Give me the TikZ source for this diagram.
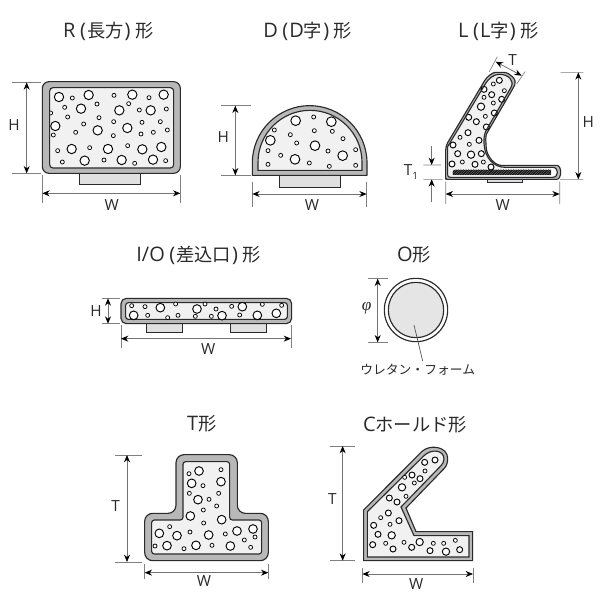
\documentclass[tikz,border=0pt]{standalone}
\usepackage{fontspec}
\setmainfont{Noto Sans CJK JP}
\newfontfamily\latfont{Open Sans}
\newfontfamily\greekfont{Liberation Serif}
\usetikzlibrary{arrows.meta}
\definecolor{band}{HTML}{B8B8B8}
\definecolor{core}{HTML}{F1F1F1}
\definecolor{ink}{HTML}{2A2A2A}
\newcommand{\lat}[1]{{\latfont\fontsize{15}{16}\selectfont #1}}
\newcommand{\opn}{\hspace{3.4pt}\lat{(}\hspace{.8pt}}
\newcommand{\cpn}{\hspace{.8pt}\lat{)}\hspace{3.4pt}}
\tikzset{
  x=.75pt,y=-.75pt,
  zoomed/.style={scale=0.33333},
  shell/.style={draw=ink,line width=.85pt,fill=band,line join=round},
  foam/.style={draw=ink,line width=.85pt,fill=core,line join=round},
  foot/.style={draw=ink,line width=.75pt,fill=core!85!gray},
  bub/.style={draw=black,line width=.7pt,fill=white},
  smallbub/.style={draw=black,line width=.55pt,fill=white},
  ext/.style={draw=black!50,line width=.5pt},
  dimline/.style={draw=black!55,line width=.6pt,{Stealth[length=5.5pt,width=4.5pt,black]}-{Stealth[length=5.5pt,width=4.5pt,black]}},
  onetip/.style={draw=black!55,line width=.6pt,-{Stealth[length=5.5pt,width=4.5pt,black]}},
  ttl/.style={font=\fontsize{13.7}{15}\selectfont,text=ink,inner sep=0pt},
  dimtext/.style={font=\latfont\fontsize{11.5}{13}\selectfont,text=ink,inner sep=0pt},
}
\newcommand{\bubbles}[2]{\foreach \bx/\by in {#2} \draw[bub] (\bx,\by) circle[radius=#1];}
\newcommand{\specks}[1]{\foreach \bx/\by in {#1} \draw[smallbub] (\bx,\by) circle[radius=6];}
\begin{document}
\begin{tikzpicture}
\path[use as bounding box,fill=white] (0,0) rectangle (600,607);

% R
\begin{scope}[shift={(0,0)},zoomed]
\draw[foot] (239,515) rectangle (423,554);
\draw[shell,rounded corners=5pt] (127,245) rectangle (541,520);
\begin{scope}
\clip[rounded corners=2.5pt] (149,263) rectangle (521,504);
\fill[core,rounded corners=2.5pt] (149,263) rectangle (521,504);
\bubbles{14}{177/291,266/285,397/284,491/284,243/326,358/331,452/331,166/378,293/391,382/384,215/447,324/447,427/448,484/441,254/482,365/480,459/479}
\specks{217/294,342/286,447/293,194/322,291/312,386/311,418/330,499/327,203/351,297/353,152/339,251/372,341/365,426/367,481/365,227/397,160/405,340/407,423/402,460/397,502/390,173/452,269/443,383/437,187/486,312/480,404/490,497/482}
\end{scope}
\draw[ink,line width=.85pt,rounded corners=2.5pt] (149,263) rectangle (521,504);
\draw[ext] (37,247) -- (122,247) (37,520) -- (122,520) (127,525) -- (127,610) (541,525) -- (541,610);
\draw[dimline] (80,247) -- (80,520);
\draw[dimline] (127,580) -- (541,580);
\node[dimtext] (rh) at (42,375) {H};
\node[dimtext] (rw) at (335,614) {W};
\node[ttl] (rt) at (325,93) {\lat{R}\opn 長方\cpn 形};
\end{scope}

% D
\begin{scope}[shift={(210,0)},zoomed]
\draw[foot] (209,526) rectangle (392,562);
\draw[shell] (127,526) -- (127,489) .. controls (127,394) and (204,317) .. (299,317) .. controls (394,317) and (471,394) .. (471,489) -- (471,526) -- cycle;
\path[foam,draw=none] (144,511) -- (144,487) .. controls (144,401) and (214,331) .. (300,331) .. controls (386,331) and (456,401) .. (456,487) -- (456,511) -- cycle;
\bubbles{14.5}{257/362,364/365,181/421,315/437,398/467,255/478}
\specks{311/351,193/390,313/392,367/394,241/404,399/416,260/429,174/452,354/453,437/449,212/466,298/489,174/493,358/499,437/496}
\draw[ink,line width=.85pt] (144,511) -- (144,487) .. controls (144,401) and (214,331) .. (300,331) .. controls (386,331) and (456,401) .. (456,487) -- (456,511) -- cycle;
\draw[ext] (33,317) -- (122,317) (33,526) -- (122,526) (127,545) -- (127,620) (470,545) -- (470,620);
\draw[dimline] (76,317) -- (76,526);
\draw[dimline] (127,582) -- (470,582);
\node[dimtext] (dh) at (40,411) {H};
\node[dimtext] (dw) at (306,614) {W};
\node[ttl] (dt) at (293,93) {\lat{D}\opn\lat{D}字\cpn 形};
\end{scope}

% L
\begin{scope}[shift={(410,10)},zoomed]
\draw[foot,fill=blue!8!gray!25] (232,505) rectangle (338,518);
\draw[shell,rounded corners=3pt] (107,408) -- (218,222) .. controls (232,198) and (250,187) .. (268,187) .. controls (300,187) and (322,210) .. (309,235) -- (235,362) .. controls (229,373) and (227,385) .. (228,400) .. controls (230,440) and (255,466) .. (285,466) -- (428,466) .. controls (456,466) and (456,508) .. (428,508) -- (122,508) .. controls (112,508) and (107,503) .. (107,495) -- cycle;
\path[fill=core] (113,410) -- (224,225) .. controls (236,204) and (252,193) .. (268,193) .. controls (296,193) and (314,212) .. (303,232) -- (229,360) .. controls (223,371) and (221,385) .. (222,400) .. controls (224,445) and (252,472) .. (285,472) -- (428,472) .. controls (447,472) and (447,502) .. (428,502) -- (122,502) .. controls (116,502) and (113,500) .. (113,495) -- cycle;
\fill[white] (423,473) -- (428,473) .. controls (446,473) and (446,501) .. (428,501) -- (423,501) -- cycle;
\fill[black!55] (128,479) rectangle (423,495);
\begin{scope}
\clip (128,479) rectangle (423,495);
\foreach \hx in {120,125,...,425} \draw[black,line width=.4pt] (\hx,495) -- (\hx+16,479);
\end{scope}
\bubbles{9}{268/211,222/238,245/254,275/268,253/309,176/322,199/335,229/351,174/368,207/391,129/405,143/431,214/431,126/462,195/463,243/471}
\bubbles{11}{213/290,183/434}
\specks{250/222,283/242,222/262,250/279,226/319,150/382,178/403,157/456,220/456}
\draw[ink,line width=.85pt] (113,410) -- (224,225) .. controls (236,204) and (252,193) .. (268,193) .. controls (296,193) and (314,212) .. (303,232) -- (229,360) .. controls (223,371) and (221,385) .. (222,400) .. controls (224,445) and (252,472) .. (285,472) -- (428,472) .. controls (447,472) and (447,502) .. (428,502) -- (122,502) .. controls (116,502) and (113,500) .. (113,495) -- cycle;
\draw[ext] (238,185) -- (262,140) (320,222) -- (345,185) (452,187) -- (520,187) (450,508) -- (520,508) (40,465) -- (93,465) (40,508) -- (97,508) (107,515) -- (107,582) (449,515) -- (449,582);
\draw[dimline] (257,155) -- (335,197);
\draw[dimline] (505,187) -- (505,508);
\draw[onetip] (65,408) -- (65,465);
\draw[onetip] (65,577) -- (65,508);
\draw[dimline] (107,552) -- (449,552);
\node[dimtext] (lt) at (308,150) {T};
\node[dimtext] (lh) at (535,335) {H};
\node[dimtext] (lw) at (278,585) {W};
\node[dimtext] (lo) at (3,486) {T\raisebox{-.45ex}{\fontsize{7.5}{8}\selectfont 1}};
\node[ttl] (ltt) at (265,65) {\lat{L}\opn\lat{L}字\cpn 形};
\end{scope}

% I/O
\begin{scope}[shift={(80,235)},zoomed]
\draw[foot] (199,260) rectangle (307,293);
\draw[foot] (451,260) rectangle (559,293);
\draw[shell,rounded corners=4pt] (123,190) rectangle (635,266);
\draw[foam,rounded corners=2pt] (137,203) rectangle (622,253);
\bubbles{13}{161/241,241/218,351/222,426/242,487/215,532/241,589/235}
\specks{155/212,195/215,287/207,375/207,203/241,263/248,294/241,346/244,408/222,394/244,455/214,479/240,547/208,605/211}
\draw[ext] (65,190) -- (120,190) (65,266) -- (120,266) (123,270) -- (123,340) (633,270) -- (633,340);
\draw[dimline] (84,190) -- (84,266);
\draw[dimline] (123,311) -- (633,311);
\node[dimtext] (ih) at (48,228) {H};
\node[dimtext] (iw) at (385,342) {W};
\node[ttl] (it) at (356,60) {\lat{I/O}\opn 差込口\cpn 形};
\end{scope}

% O
\begin{scope}[shift={(340,235)},zoomed]
\draw[ink,line width=.85pt,fill=white] (228,225) circle[radius=95];
\draw[foam,fill=core!95!black] (228,225) circle[radius=83];
\coordinate (olead) at (222,270);
\node[font=\fontsize{9.6}{12}\selectfont,text=ink,inner sep=0pt] (ol) at (233,405) {ウレタン・フォーム};
\draw[draw=black!70,line width=.5pt] (olead) -- (248,378);
\draw[ext] (85,131) -- (143,131) (85,322) -- (143,322);
\draw[dimline] (113,131) -- (113,322);
\node[text=ink,inner sep=0pt,font=\greekfont\itshape\fontsize{13}{15}\selectfont] (phi) at (80,220) {φ};
\node[ttl] (ot) at (222,60) {\lat{O}形};
\end{scope}

% T
\begin{scope}[shift={(100,405)},zoomed]
\draw[shell,rounded corners=6pt] (228,149) -- (412,149) -- (412,325) -- (505,325) -- (505,467) -- (134,467) -- (134,325) -- (228,325) -- cycle;
\draw[foam,rounded corners=2pt] (249,170) -- (389,170) -- (389,345) -- (485,345) -- (485,447) -- (155,447) -- (155,345) -- (249,345) -- cycle;
\bubbles{13}{297/198,275/235,363/230,294/284,271/333,365/344,178/385,231/392,326/390,411/378,459/372,201/422,288/421,391/423}
\specks{363/194,267/206,309/242,268/265,356/265,327/283,350/303,310/315,311/354,209/365,270/381,376/387,465/396,433/405,165/423,252/431,336/421,452/427}
\draw[ext] (45,150) -- (125,150) (45,471) -- (125,471) (134,478) -- (134,522) (505,478) -- (505,522);
\draw[dimline] (81,150) -- (81,471);
\draw[dimline] (134,503) -- (505,503);
\node[dimtext] (tt) at (47,303) {T};
\node[dimtext] (tw) at (312,528) {W};
\node[ttl] (ttt) at (305,55) {\lat{T}形};
\end{scope}

% C
\begin{scope}[shift={(320,405)},zoomed]
\draw[shell,line join=miter] (131,315) -- (305,140) .. controls (330,116) and (383,125) .. (383,160) .. controls (383,172) and (380,183) .. (373,190) -- (258,309) -- (288,380) -- (458,380) -- (458,467) -- (131,467) -- cycle;
\draw[foam,line join=miter] (142,320) -- (312,152) .. controls (335,130) and (372,135) .. (372,162) .. controls (372,170) and (368,177) .. (362,183) -- (243,306) -- (282,392) -- (447,392) -- (447,456) -- (142,456) -- cycle;
\bubbles{9}{345/165,314/172,300/221,276/210,208/279,231/291,205/324,237/347,161/361,174/388,158/419,219/432,275/427,330/437,419/434}
\bubbles{11}{246/247,215/391,299/411,378/440}
\specks{315/198,254/217,283/234,258/274,182/338,210/358,197/415,252/412,340/415,371/415,406/406}
\draw[ext] (30,123) -- (105,123) (30,467) -- (105,467) (127,488) -- (127,535) (459,488) -- (459,535);
\draw[dimline] (68,123) -- (68,467);
\draw[dimline] (127,507) -- (459,507);
\node[dimtext] (ct) at (37,283) {T};
\node[dimtext] (cw) at (289,537) {W};
\node[ttl] (ctt) at (285,60) {\lat{C}ホールド形};
\end{scope}
\end{tikzpicture}
\end{document}
